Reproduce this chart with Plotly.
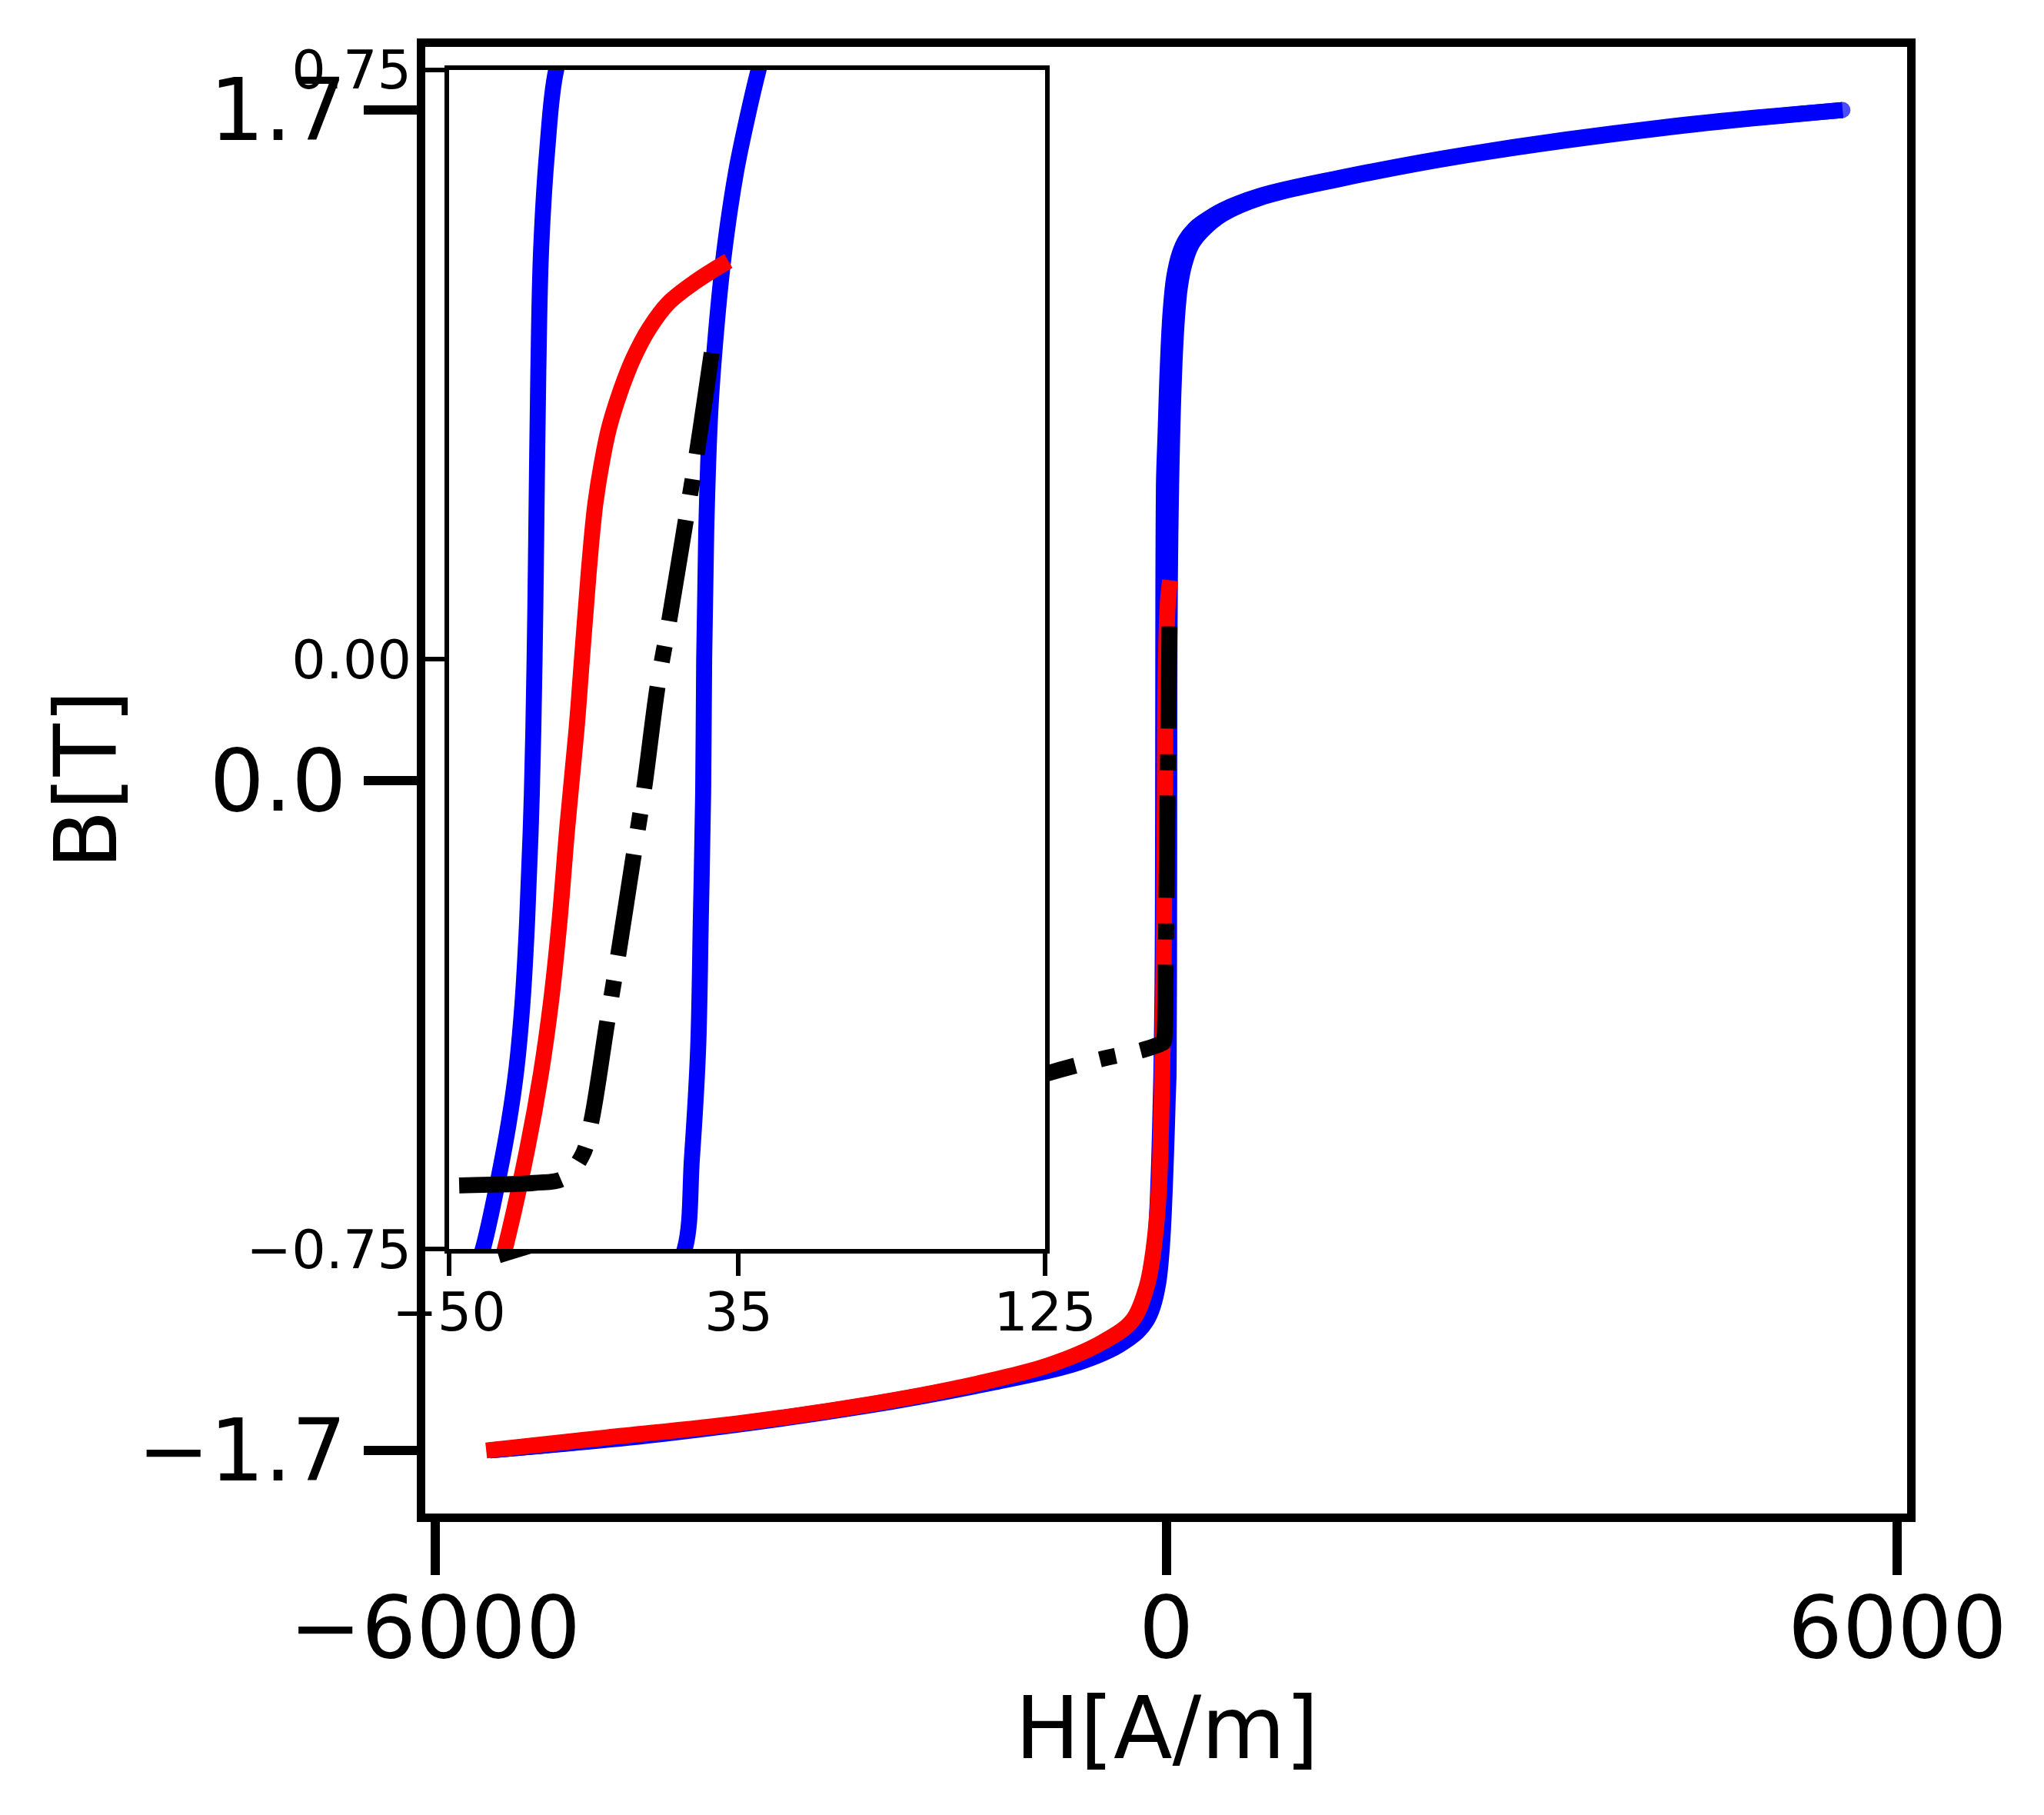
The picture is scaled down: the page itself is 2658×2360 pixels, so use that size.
import plotly.graph_objects as go

# ---------------- data ----------------
# Blue: major loop, descending branch (from +saturation to -saturation)
blue_H_desc = [5550, 4098, 2459, 1410, 779, 464, 300, 232, 160, 110, 65, 38, 20, 6, -5, -14.5,
               -18.6, -21.2, -23.0, -23.8, -24.4, -24.9, -25.7, -27.1, -28.5, -30.2, -32.5, -35.5, -40.1,
               -44, -49, -58, -70, -88, -112, -150, -210, -300, -464, -779, -1410, -2459, -4098, -5550]
blue_B_desc = [1.700, 1.657, 1.587, 1.527, 1.483, 1.446, 1.415, 1.398, 1.370, 1.335, 1.275, 1.195,
               1.100, 0.990, 0.880, 0.800,
               0.749, 0.647, 0.519, 0.366, 0.162, 0.000, -0.170, -0.334, -0.440, -0.520, -0.590, -0.660,
               -0.750,
               -0.800, -0.870, -0.970, -1.070, -1.170, -1.250, -1.310, -1.360, -1.395, -1.436, -1.478,
               -1.524, -1.585, -1.655, -1.700]
# Blue: ascending branch (from -saturation to +saturation)
blue_H_asc = [-5550, -4098, -2459, -1410, -779, -464, -300, -232, -160, -110, -65, -38, -20, -6, 6, 13,
              19.2, 21.3, 23.1, 23.9, 24.6, 24.9, 25.5, 26.7, 28.4, 30.8, 34.3, 37.6, 40.8,
              44, 49, 58, 70, 88, 112, 150, 210, 300, 464, 779, 1410, 2459, 4098, 5550]
blue_B_asc = [-1.700, -1.657, -1.587, -1.527, -1.483, -1.446, -1.415, -1.398, -1.370, -1.335, -1.275,
              -1.195, -1.100, -0.990, -0.880, -0.805,
              -0.750, -0.635, -0.498, -0.334, -0.170, 0.000, 0.162, 0.315, 0.417, 0.519, 0.621, 0.690, 0.749,
              0.800, 0.870, 0.970, 1.070, 1.170, 1.250, 1.310, 1.360, 1.395, 1.436, 1.478, 1.524,
              1.585, 1.655, 1.700]
# Red curve
red_H = [-5580, -4589, -3503, -2416, -1691, -967, -520, -276, -160, -115, -85, -62, -48, -40,
         -33.6, -27.1, -23.0, -20.0, -17.6, -15.3, -12.6, -11.0, -9.0, -8.0, -7.0, -5.2, -3.0, 0.7,
         4.2, 8.9, 14.3, 22.5, 32.0]
red_B = [-1.700, -1.667, -1.631, -1.582, -1.540, -1.484, -1.425, -1.370, -1.285, -1.215, -1.140,
         -1.050, -0.950, -0.850,
         -0.750, -0.624, -0.526, -0.433, -0.334, -0.214, -0.090, 0.000, 0.111, 0.160, 0.200, 0.249,
         0.295, 0.346, 0.384, 0.422, 0.453, 0.481, 0.507]
# Black dash-dot curve (ordered from its upper end, where the dash pattern starts)
black_H = [27.1, 22.8, 19.5, 14.7, 11.2, 7.3, 4.2, -0.3, -3.6, -8.2, -10.8, -16.4, -25.0, -46.6,
           -191, -528, -980, -1700, -2500, -3500, -4500, -5480]
black_B = [0.390, 0.264, 0.177, 0.051, -0.035, -0.163, -0.249, -0.375, -0.462, -0.587, -0.630,
           -0.660, -0.666, -0.669, -0.684, -0.707, -0.744, -0.815, -0.900, -1.000, -1.110, -1.205]

# ticks
main_xticks = [-6000, 0, 6000]
main_xticklabels = ["\u22126000", "0", "6000"]
main_yticks = [-1.7, 0.0, 1.7]
main_yticklabels = ["\u22121.7", "0.0", "1.7"]
inset_xticks = [-50, 35, 125]
inset_xticklabels = ["\u221250", "35", "125"]
inset_yticks = [-0.75, 0.0, 0.75]
inset_yticklabels = ["\u22120.75", "0.00", "0.75"]

# ---------------- figure ----------------
PAGE_W, PAGE_H = 2658, 2360
OFF = 8                      # default body margin of the html page
W, H = PAGE_W - OFF, PAGE_H - OFF
FONT = "DejaVu Sans"
LW = 20.8
dashdot = "133px,33px,21px,33px"

fig = go.Figure()
for xa, ya in (("x", "y"), ("x2", "y2")):
    fig.add_trace(go.Scatter(x=blue_H_desc, y=blue_B_desc, mode="lines",
                             line=dict(color="#0000ff", width=LW, shape="spline", smoothing=1.0),
                             xaxis=xa, yaxis=ya, showlegend=False, hoverinfo="skip"))
    # rounded end cap at the upper end of the ascending branch
    cap_sizes = [0] * (len(blue_H_asc) - 1) + [LW]
    fig.add_trace(go.Scatter(x=blue_H_asc, y=blue_B_asc, mode="lines+markers",
                             line=dict(color="#0000ff", width=LW, shape="spline", smoothing=1.0),
                             marker=dict(color="#0000ff", size=cap_sizes, line=dict(width=0)),
                             xaxis=xa, yaxis=ya, showlegend=False, hoverinfo="skip"))
    fig.add_trace(go.Scatter(x=red_H, y=red_B, mode="lines",
                             line=dict(color="#ff0000", width=LW, shape="spline", smoothing=1.0),
                             xaxis=xa, yaxis=ya, showlegend=False, hoverinfo="skip"))
    fig.add_trace(go.Scatter(x=black_H, y=black_B, mode="lines",
                             line=dict(color="#000000", width=LW, dash=dashdot, shape="spline",
                                       smoothing=1.0),
                             xaxis=xa, yaxis=ya, showlegend=False, hoverinfo="skip"))

# main plot area in page pixels
L, R, T, B = 553, 2480, 55, 1968
pw, ph = R - L, B - T
# inset frame in page pixels
iL, iR, iT, iB = 584, 1359, 85, 1623

MAIN_FS, INSET_FS = 112, 70
main_axis = dict(showline=True, linewidth=11, linecolor="black", mirror=True,
                 ticks="outside", ticklen=69, tickwidth=12, tickcolor="black",
                 showgrid=False, zeroline=False,
                 tickfont=dict(family=FONT, size=MAIN_FS, color="black"))
inset_axis = dict(showline=True, linewidth=6, linecolor="black", mirror=True,
                  ticks="outside", ticklen=29, tickwidth=6, tickcolor="black",
                  showgrid=False, zeroline=False,
                  tickfont=dict(family=FONT, size=INSET_FS, color="black"))

fig.update_layout(
    width=W, height=H, autosize=False,
    margin=dict(l=L - OFF, r=W - (R - OFF), t=T - OFF, b=H - (B - OFF), pad=0),
    paper_bgcolor="white", plot_bgcolor="white",
    font=dict(family=FONT, color="black"),
    xaxis=dict(main_axis, domain=[0, 1], range=[-6080, 6080], tickmode="array",
               tickvals=main_xticks, ticktext=main_xticklabels, anchor="y",
               ticklabelstandoff=-27),
    yaxis=dict(main_axis, domain=[0, 1], range=[-1.86, 1.86], tickmode="array",
               tickvals=main_yticks, ticktext=main_yticklabels, anchor="x"),
    xaxis2=dict(inset_axis, domain=[(iL - L) / pw, (iR - L) / pw], range=[-50, 125],
                tickmode="array", tickvals=inset_xticks, ticktext=inset_xticklabels, anchor="y2",
                ticklabelstandoff=-13),
    yaxis2=dict(inset_axis, domain=[(B - iB) / ph, (B - iT) / ph], range=[-0.75, 0.75],
                tickmode="array", tickvals=inset_yticks, ticktext=inset_yticklabels, anchor="x2"),
    annotations=[
        dict(text="H[A/m]", xref="paper", yref="paper", x=(1517 - L) / pw, y=(B - 2248) / ph,
             xanchor="center", yanchor="middle", showarrow=False,
             font=dict(family=FONT, size=MAIN_FS, color="black")),
        dict(text="B[T]", xref="paper", yref="paper", x=(112 - L) / pw, y=(B - 1011) / ph,
             xanchor="center", yanchor="middle", showarrow=False, textangle=-90,
             font=dict(family=FONT, size=MAIN_FS, color="black")),
    ],
)

fig.write_html("out.html", config={"displayModeBar": False})
